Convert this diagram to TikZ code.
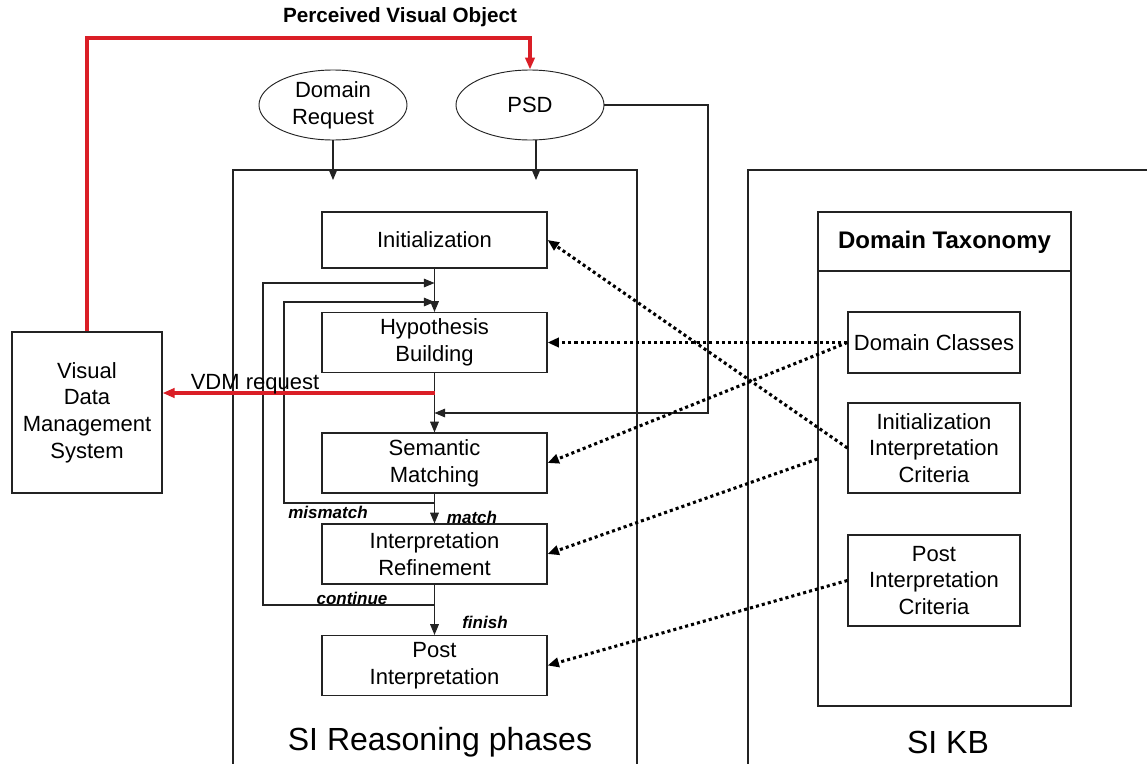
\documentclass[tikz,border=0pt]{standalone}
\usepackage{fontspec}
\setmainfont{Liberation Sans}
\usetikzlibrary{arrows.meta,positioning,shapes.geometric}
\definecolor{sired}{RGB}{218,30,38}
\definecolor{siline}{RGB}{35,35,35}

\begin{document}
\begin{tikzpicture}[x=0.75pt,y=-0.75pt,
  box/.style={draw=siline,line width=0.9pt,align=center,inner sep=0pt,font=\fontsize{16.5}{20}\selectfont},
  phase/.style={box,minimum width=168.75pt,minimum height=45pt},
  crit/.style={box,minimum width=129pt},
  src/.style={ellipse,box,line width=0.7pt,minimum width=111pt,minimum height=52.5pt},
  frame/.style={draw=siline,line width=0.9pt,inner sep=0pt},
  arr/.style={-{Triangle[length=8pt,width=6.5pt]},siline,line width=0.8pt},
  dotarr/.style={-{Triangle[length=8.5pt,width=7pt]},black,line width=2.3pt,dash pattern=on 2.3pt off 2.3pt},
  redarr/.style={-{Triangle[length=9pt,width=7pt]},sired,line width=2.6pt},
  tag/.style={font=\fontsize{12.75}{14}\selectfont\bfseries\itshape}]
\useasboundingbox (0,0) rectangle (1147,764);
\fill[white] (0,0) rectangle (1147,764);

% the two big frames
\node[frame,minimum width=303pt,minimum height=472.5pt] (rsn) at (435,485) {};
\node[frame,minimum width=376.5pt,minimum height=472.5pt] (kb) at (999,485) {};
\node[font=\fontsize{24}{28}\selectfont] (rsnlbl) at (440,742) {SI Reasoning phases};
\node[font=\fontsize{24}{28}\selectfont] (kblbl) at (948,742) {SI KB};

% reasoning phases
\node[phase,minimum height=42pt] (init) at (434.5,240) {Initialization};
\node[phase] (hyp) at (434.5,342.5) {Hypothesis\\Building};
\node[phase] (sem) at (434.5,463) {Semantic\\Matching};
\node[phase] (ref) at (434.5,554) {Interpretation\\Refinement};
\node[phase] (post) at (434.5,665.5) {Post\\Interpretation};

% inputs
\node[src] (dreq) at (333,105) {Domain\\Request};
\node[src] (psd) at (530,105) {PSD};
\node[box,minimum width=112.5pt,minimum height=120.75pt] (vdms) at (87,412.5) {Visual\\Data\\Management\\System};

% knowledge base
\node[frame,minimum width=189.75pt,minimum height=370.5pt] (tax) at (944.5,459) {};
\node[font=\fontsize{18}{20}\selectfont\bfseries] (taxlbl) at (944.5,242) {Domain Taxonomy};
\coordinate (taxsep) at (944.5,271);
\draw[siline,line width=0.9pt] (tax.west |- taxsep) -- (tax.east |- taxsep);
\node[crit,minimum height=45.75pt] (dcls) at (934,342.5) {Domain Classes};
\node[crit,minimum height=67.5pt] (icrit) at (934,448) {Initialization\\Interpretation\\Criteria};
\node[crit,minimum height=68.25pt] (pcrit) at (934,580.5) {Post\\Interpretation\\Criteria};

% bends and joins
\coordinate (pvo) at (530,38);
\coordinate (dreqin) at (333,180);
\coordinate (psdin) at (536,180);
\coordinate (psdturn) at (708,413);
\coordinate (psdjoin) at (434.5,413);
\coordinate (vdmout) at (434.5,393);
\coordinate (mis) at (434.5,503);
\coordinate (misleft) at (284,302);
\coordinate (misback) at (434.5,302);
\coordinate (cnt) at (434.5,605);
\coordinate (cntleft) at (263,283);
\coordinate (cntback) at (434.5,283);

% control flow
\draw[arr] (dreq) -- (dreqin);
\draw[arr] (psdin |- psd.south) -- (psdin);
\draw[arr] (init) -- (hyp);
\draw[arr] (hyp) -- (sem);
\draw[arr] (sem) -- (ref);
\draw[arr] (ref) -- (post);
\draw[arr] (mis) -| (misleft) -- (misback);
\draw[arr] (cnt) -| (cntleft) -- (cntback);
\draw[arr] (psd.east) -| (psdturn) -- (psdjoin);
\node[tag] (mistag) at (328,512) {mismatch};
\node[tag] (matchtag) at (472,517) {match};
\node[tag] (conttag) at (352,598) {continue};
\node[tag] (fintag) at (485,622) {finish};

% visual data management
\draw[redarr] (vdms) |- (pvo) -- (psd);
\node[font=\fontsize{15.5}{18}\selectfont\bfseries] (pvolbl) at (400,17) {Perceived Visual Object};
\draw[redarr] (vdmout) -- (vdmout -| vdms.east);
\node[font=\fontsize{16.5}{20}\selectfont] (vdmlbl) at (255,384) {VDM request};

% knowledge used by the phases
\draw[dotarr] (dcls) -- (hyp);
\draw[dotarr] (dcls.west) -- (sem.east);
\draw[dotarr] (icrit.west) -- (init.east);
\draw[dotarr] (tax.west) -- (ref.east);
\draw[dotarr] (pcrit.west) -- (post.east);
\end{tikzpicture}
\end{document}
